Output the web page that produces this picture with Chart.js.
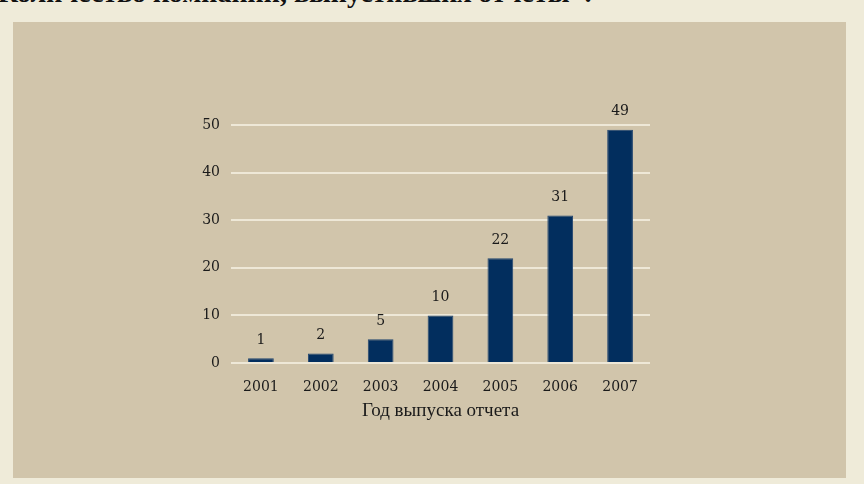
<!DOCTYPE html>
<html>
<head>
<meta charset="utf-8">
<script src="https://cdn.jsdelivr.net/npm/chart.js@4.4.0/dist/chart.umd.min.js"></script>
<style>
  html, body { margin: 0; padding: 0; }
  body { width: 864px; height: 484px; background: #efebd9; position: relative; overflow: hidden; }
  #caption {
    position: absolute; left: -2px; top: -23px; line-height: 32px;
    font: bold 28px "Liberation Serif", serif; color: #111; white-space: nowrap;
  }
  #panel { position: absolute; left: 13px; top: 22px; width: 833px; height: 456px; background: #d1c5ab; }
  #wrap { position: absolute; left: 0; top: 0; width: 864px; height: 484px; }
</style>
</head>
<body>
<div id="caption">Количество компаний, выпустивших отчеты*:</div>
<div id="panel"></div>
<div id="wrap"><canvas id="grafico"></canvas></div>
<script>
// данные графика
const anos    = ['2001', '2002', '2003', '2004', '2005', '2006', '2007'];
const valores = [1, 2, 5, 10, 22, 31, 49];
const tituloX = 'Год выпуска отчета';

const fonteNum   = '"DejaVu Serif", serif';
const fonteTexto = '"Liberation Serif", serif';

// подписи значений над столбцами
const rotulos = {
  id: 'rotulos',
  afterDatasetsDraw(chart) {
    const { ctx } = chart;
    const meta = chart.getDatasetMeta(0);
    ctx.save();
    ctx.font = '14px ' + fonteNum;
    ctx.fillStyle = '#1a1a1a';
    ctx.textAlign = 'center';
    ctx.textBaseline = 'middle';
    meta.data.forEach((bar, i) => {
      ctx.fillText(String(valores[i]), bar.x, bar.y - 18);
    });
    ctx.restore();
  }
};

new Chart(document.getElementById('grafico'), {
  type: 'bar',
  data: {
    labels: anos,
    datasets: [{
      data: valores,
      backgroundColor: '#022e5e',
      borderColor: '#23466f',
      borderWidth: 1,
      barPercentage: 0.43,
      categoryPercentage: 1
    }]
  },
  options: {
    responsive: true,
    maintainAspectRatio: false,
    animation: false,
    layout: { padding: { left: 191, right: 214, top: 125, bottom: 61 } },
    plugins: { legend: { display: false }, tooltip: { enabled: false } },
    scales: {
      x: {
        grid: { display: false, drawTicks: false },
        border: { display: false },
        ticks: { color: '#1a1a1a', font: { family: fonteNum, size: 14 }, padding: 16 },
        title: {
          display: true, text: tituloX, color: '#1a1a1a', align: 'center',
          font: { family: fonteTexto, size: 19 }, padding: { top: 0, bottom: 1 }
        },
        afterFit: s => { s.height = 60; }
      },
      y: {
        min: 0, max: 50,
        ticks: { stepSize: 10, color: '#1a1a1a', font: { family: fonteNum, size: 14 }, padding: 11 },
        grid: { color: '#eee8d7', lineWidth: 2, drawTicks: false },
        border: { display: false },
        afterFit: s => { s.width = 40; }
      }
    }
  },
  plugins: [rotulos]
});
</script>
</body>
</html>
